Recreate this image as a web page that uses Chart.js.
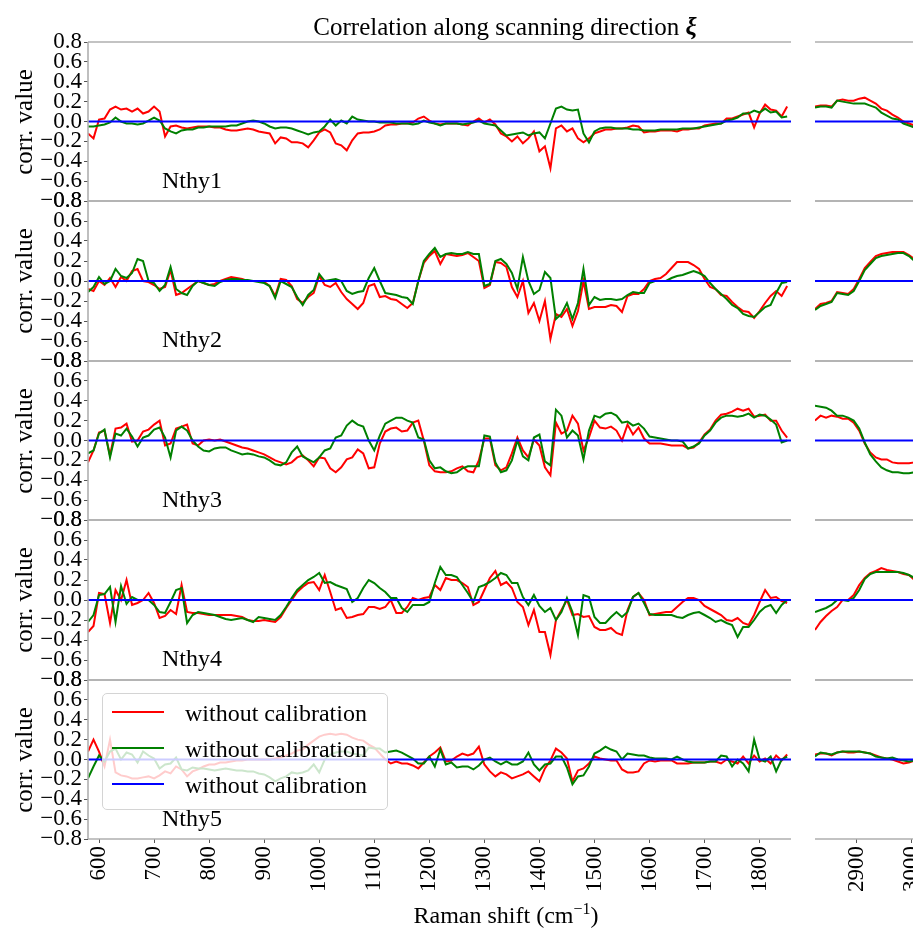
<!DOCTYPE html>
<html>
<head>
<meta charset="utf-8">
<script src="https://cdn.jsdelivr.net/npm/chart.js@4.4.0/dist/chart.umd.min.js"></script>
<style>
	html, body { margin: 0; padding: 0; overflow: hidden; background: #fff; }
	#fig { position: relative; width: 913px; height: 929px; overflow: hidden; font-family: 'Liberation Serif', 'Times New Roman', serif; color: #000; }
	#fig canvas { position: absolute; z-index: 1; }
	.txt { position: absolute; white-space: nowrap; z-index: 5; }
	#title { left: 505px; top: 14px; font-size: 25px; line-height: 25px; transform: translateX(-50%); }
	#xlabel { left: 506px; top: 903px; font-size: 24px; line-height: 24px; transform: translateX(-50%); }
	#xlabel sup { font-size: 16px; position: relative; top: -9px; vertical-align: baseline; }
	.ylabel { font-size: 25px; line-height: 25px; transform: translate(-50%, -50%) rotate(-90deg); }
	.sample { font-size: 24px; line-height: 24px; }
	#legend { position: absolute; left: 102px; top: 693px; width: 286px; height: 117px; box-sizing: border-box; background: rgba(255, 255, 255, 0.8); border: 1px solid #d4d4d4; border-radius: 5px; z-index: 6; }
	.leg_line { position: absolute; left: 9px; width: 52px; height: 2px; }
	.leg_text { position: absolute; left: 82px; font-size: 24px; line-height: 24px; white-space: nowrap; }
</style>
</head>
<body>
<div id="fig">
	<div class="txt" id="title">Correlation along scanning direction <b><i>ξ</i></b></div>
	<div class="txt" id="xlabel">Raman shift (cm<sup>−1</sup>)</div>
	<div id="legend"></div>
</div>
<script>
// Raman shift sampling, fingerprint part and CH part of the broken axis
const shift_fp = [
	580, 590, 600, 610, 620, 630, 640, 650, 660, 670,
	680, 690, 700, 710, 720, 730, 740, 750, 760, 770,
	780, 790, 800, 810, 820, 830, 840, 850, 860, 870,
	880, 890, 900, 910, 920, 930, 940, 950, 960, 970,
	980, 990, 1000, 1010, 1020, 1030, 1040, 1050, 1060, 1070,
	1080, 1090, 1100, 1110, 1120, 1130, 1140, 1150, 1160, 1170,
	1180, 1190, 1200, 1210, 1220, 1230, 1240, 1250, 1260, 1270,
	1280, 1290, 1300, 1310, 1320, 1330, 1340, 1350, 1360, 1370,
	1380, 1390, 1400, 1410, 1420, 1430, 1440, 1450, 1460, 1470,
	1480, 1490, 1500, 1510, 1520, 1530, 1540, 1550, 1560, 1570,
	1580, 1590, 1600, 1610, 1620, 1630, 1640, 1650, 1660, 1670,
	1680, 1690, 1700, 1710, 1720, 1730, 1740, 1750, 1760, 1770,
	1780, 1790, 1800, 1810, 1820, 1830, 1840, 1850,
]
const shift_hw = [2825, 2835, 2845, 2855, 2865, 2875, 2885, 2895, 2905, 2915, 2925, 2935, 2945, 2955, 2965, 2975, 2985, 2995, 3005]

const ticks_fp = [600, 700, 800, 900, 1000, 1100, 1200, 1300, 1400, 1500, 1600, 1700, 1800]
const ticks_hw = [2900, 3000]
const ticks_y = [-0.8, -0.6, -0.4, -0.2, 0, 0.2, 0.4, 0.6, 0.8]

const samples = ['Nthy1', 'Nthy2', 'Nthy3', 'Nthy4', 'Nthy5']
const legend_labels = ['without calibration', 'without calibration', 'without calibration']

// blue reference: flat at zero over each axis part
const blue_shift_fp = [580, 1857]
const blue_shift_hw = [2825, 3024]
const blue_level = [0, 0]

const nthy1_red_fp = [
	-0.12, -0.17, 0.02, 0.03, 0.12, 0.15, 0.12, 0.13, 0.10, 0.13,
	0.08, 0.10, 0.15, 0.10, -0.15, -0.05, -0.04, -0.06, -0.07, -0.06,
	-0.05, -0.05, -0.05, -0.06, -0.06, -0.08, -0.09, -0.09, -0.08, -0.07,
	-0.08, -0.10, -0.11, -0.12, -0.22, -0.16, -0.17, -0.21, -0.21, -0.22,
	-0.26, -0.19, -0.11, -0.08, -0.11, -0.22, -0.24, -0.29, -0.19, -0.12,
	-0.11, -0.11, -0.10, -0.08, -0.04, -0.03, -0.03, -0.02, -0.02, -0.01,
	0.03, 0.05, 0.01, -0.02, -0.03, -0.02, -0.02, -0.02, -0.03, -0.04,
	0.00, 0.03, -0.01, 0.02, -0.03, -0.12, -0.15, -0.20, -0.15, -0.22,
	-0.17, -0.10, -0.30, -0.25, -0.47, -0.07, -0.04, -0.10, -0.07, -0.17,
	-0.21, -0.17, -0.12, -0.10, -0.08, -0.08, -0.07, -0.07, -0.06, -0.04,
	-0.05, -0.11, -0.10, -0.10, -0.09, -0.09, -0.09, -0.10, -0.08, -0.08,
	-0.07, -0.07, -0.04, -0.03, -0.02, -0.02, 0.03, 0.03, 0.05, 0.07,
	0.09, -0.06, 0.08, 0.17, 0.12, 0.11, 0.05, 0.15,
]
const nthy1_green_fp = [
	-0.05, -0.05, -0.04, -0.03, -0.01, 0.04, 0.00, -0.02, -0.02, -0.03,
	-0.02, 0.01, 0.04, 0.01, -0.07, -0.10, -0.12, -0.09, -0.08, -0.08,
	-0.06, -0.06, -0.05, -0.05, -0.05, -0.05, -0.04, -0.04, -0.02, 0.00,
	0.01, 0.00, -0.02, -0.05, -0.07, -0.06, -0.06, -0.07, -0.09, -0.11,
	-0.13, -0.11, -0.10, -0.05, 0.02, -0.04, 0.01, -0.02, 0.05, 0.02,
	0.01, 0.00, 0.00, -0.01, -0.01, -0.01, -0.02, -0.02, -0.02, -0.03,
	-0.02, 0.01, -0.01, -0.02, -0.04, -0.02, -0.02, -0.02, -0.03, -0.02,
	-0.01, 0.01, -0.02, -0.03, -0.04, -0.09, -0.14, -0.13, -0.12, -0.11,
	-0.14, -0.12, -0.11, -0.17, -0.02, 0.13, 0.15, 0.12, 0.11, 0.12,
	-0.12, -0.21, -0.10, -0.07, -0.06, -0.06, -0.07, -0.07, -0.07, -0.08,
	-0.08, -0.09, -0.09, -0.09, -0.08, -0.08, -0.08, -0.08, -0.07, -0.07,
	-0.07, -0.06, -0.05, -0.04, -0.03, -0.02, 0.01, 0.02, 0.04, 0.08,
	0.08, 0.11, 0.09, 0.13, 0.09, 0.10, 0.04, 0.05,
]
const nthy1_red_hw = [0.15, 0.16, 0.16, 0.15, 0.21, 0.22, 0.21, 0.21, 0.23, 0.24, 0.21, 0.18, 0.13, 0.11, 0.07, 0.04, 0.00, -0.02, -0.04]
const nthy1_green_hw = [0.14, 0.15, 0.15, 0.14, 0.21, 0.20, 0.19, 0.18, 0.18, 0.18, 0.16, 0.14, 0.09, 0.06, 0.03, 0.02, -0.02, -0.04, -0.06]

const nthy2_red_fp = [
	-0.08, -0.10, 0.00, -0.04, 0.03, -0.06, 0.04, 0.00, 0.10, 0.12,
	0.00, -0.01, -0.04, -0.08, -0.06, 0.11, -0.14, -0.12, -0.08, -0.04,
	0.00, -0.02, -0.04, -0.03, 0.00, 0.02, 0.04, 0.03, 0.02, 0.00,
	0.00, 0.00, -0.01, -0.05, -0.15, 0.02, 0.01, -0.05, -0.18, -0.22,
	-0.16, -0.12, 0.05, -0.04, -0.06, -0.02, -0.11, -0.18, -0.23, -0.28,
	-0.22, -0.05, -0.03, -0.16, -0.15, -0.18, -0.19, -0.23, -0.27, -0.22,
	0.00, 0.18, 0.25, 0.30, 0.17, 0.27, 0.26, 0.25, 0.26, 0.28,
	0.24, 0.20, -0.07, -0.04, 0.19, 0.18, 0.14, -0.06, -0.16, 0.00,
	-0.32, -0.22, -0.40, -0.20, -0.58, -0.33, -0.36, -0.28, -0.45, -0.30,
	0.00, -0.28, -0.26, -0.26, -0.26, -0.24, -0.25, -0.31, -0.15, -0.13,
	-0.13, -0.08, 0.00, 0.02, 0.03, 0.07, 0.13, 0.19, 0.19, 0.19,
	0.16, 0.12, 0.02, -0.06, -0.08, -0.14, -0.15, -0.21, -0.26, -0.30,
	-0.31, -0.37, -0.30, -0.22, -0.15, -0.10, -0.15, -0.05,
]
const nthy2_green_fp = [
	-0.11, -0.06, 0.04, -0.03, 0.00, 0.12, 0.05, 0.03, 0.08, 0.22,
	0.20, 0.00, -0.02, -0.10, -0.04, 0.14, -0.08, -0.12, -0.14, -0.05,
	0.00, -0.02, -0.04, -0.05, -0.01, 0.01, 0.02, 0.02, 0.01, 0.01,
	0.00, -0.01, -0.02, -0.05, -0.17, 0.00, -0.03, -0.06, -0.16, -0.24,
	-0.14, -0.09, 0.07, 0.00, 0.01, 0.02, 0.00, -0.10, -0.13, -0.11,
	-0.10, 0.03, 0.13, 0.00, -0.12, -0.13, -0.14, -0.16, -0.17, -0.23,
	0.00, 0.20, 0.27, 0.33, 0.24, 0.27, 0.28, 0.27, 0.27, 0.29,
	0.27, 0.27, -0.05, -0.03, 0.20, 0.22, 0.17, 0.08, -0.08, 0.24,
	0.00, -0.13, -0.09, 0.09, 0.03, -0.38, -0.33, -0.22, -0.38, -0.22,
	0.12, -0.24, -0.16, -0.19, -0.18, -0.18, -0.19, -0.18, -0.14, -0.11,
	-0.12, -0.12, -0.02, 0.00, 0.00, 0.00, 0.03, 0.05, 0.06, 0.08,
	0.10, 0.08, 0.05, -0.02, -0.08, -0.13, -0.18, -0.24, -0.27, -0.33,
	-0.35, -0.36, -0.31, -0.26, -0.24, -0.12, -0.02, -0.01,
]
const nthy2_red_hw = [-0.28, -0.23, -0.22, -0.20, -0.11, -0.12, -0.13, -0.08, 0.02, 0.13, 0.19, 0.25, 0.27, 0.28, 0.29, 0.29, 0.29, 0.26, 0.22]
const nthy2_green_hw = [-0.29, -0.25, -0.23, -0.21, -0.12, -0.13, -0.14, -0.10, 0.00, 0.11, 0.17, 0.23, 0.25, 0.26, 0.27, 0.28, 0.28, 0.25, 0.20]

const nthy3_red_fp = [
	-0.22, -0.10, 0.08, 0.10, -0.15, 0.12, 0.13, 0.17, -0.01, 0.00,
	0.09, 0.11, 0.16, 0.20, -0.05, -0.03, 0.12, 0.14, 0.16, -0.03,
	-0.05, 0.00, 0.01, 0.00, 0.01, -0.01, -0.03, -0.05, -0.07, -0.08,
	-0.10, -0.12, -0.14, -0.17, -0.20, -0.22, -0.24, -0.22, -0.17, -0.15,
	-0.20, -0.26, -0.17, -0.18, -0.28, -0.32, -0.27, -0.19, -0.17, -0.09,
	-0.13, -0.28, -0.27, -0.03, 0.09, 0.12, 0.13, 0.09, 0.10, 0.18,
	0.20, 0.00, -0.25, -0.31, -0.32, -0.32, -0.31, -0.28, -0.26, -0.31,
	-0.32, -0.20, 0.02, 0.02, -0.25, -0.30, -0.27, -0.13, 0.03, -0.10,
	-0.17, 0.01, -0.05, -0.27, -0.35, 0.18, 0.07, 0.10, 0.25, 0.17,
	-0.10, 0.03, 0.20, 0.13, 0.12, 0.14, 0.10, 0.00, 0.16, 0.06,
	0.13, 0.02, -0.03, -0.03, -0.03, -0.04, -0.05, -0.05, -0.05, -0.08,
	-0.07, -0.02, 0.06, 0.11, 0.20, 0.26, 0.27, 0.29, 0.32, 0.30,
	0.32, 0.24, 0.25, 0.26, 0.20, 0.20, 0.10, 0.03,
]
const nthy3_green_fp = [
	-0.13, -0.10, 0.07, 0.11, -0.17, 0.07, 0.05, 0.12, 0.04, -0.06,
	0.03, 0.05, 0.11, 0.13, 0.03, -0.17, 0.10, 0.14, 0.10, 0.00,
	-0.06, -0.10, -0.11, -0.08, -0.07, -0.07, -0.10, -0.12, -0.14, -0.13,
	-0.14, -0.16, -0.17, -0.20, -0.24, -0.25, -0.22, -0.12, -0.06, -0.16,
	-0.19, -0.22, -0.17, -0.10, -0.08, 0.03, 0.05, 0.15, 0.20, 0.16,
	0.14, 0.00, -0.10, 0.05, 0.17, 0.20, 0.23, 0.23, 0.20, 0.18,
	0.03, 0.01, -0.20, -0.28, -0.27, -0.31, -0.33, -0.32, -0.28, -0.26,
	-0.26, -0.26, 0.05, 0.04, -0.22, -0.32, -0.30, -0.20, 0.00, -0.16,
	-0.20, 0.03, 0.06, -0.21, -0.25, 0.31, 0.25, 0.03, 0.10, 0.05,
	-0.19, 0.10, 0.25, 0.23, 0.27, 0.28, 0.25, 0.18, 0.19, 0.15,
	0.17, 0.12, 0.04, 0.03, 0.02, 0.01, 0.00, 0.00, -0.01, -0.08,
	-0.06, -0.03, 0.05, 0.10, 0.18, 0.23, 0.25, 0.25, 0.24, 0.25,
	0.27, 0.23, 0.26, 0.25, 0.21, 0.16, -0.02, 0.00,
]
const nthy3_red_hw = [0.20, 0.25, 0.23, 0.25, 0.24, 0.22, 0.22, 0.18, 0.10, -0.03, -0.12, -0.17, -0.19, -0.19, -0.22, -0.23, -0.23, -0.23, -0.22]
const nthy3_green_hw = [0.35, 0.34, 0.33, 0.30, 0.25, 0.25, 0.23, 0.20, 0.12, -0.02, -0.14, -0.21, -0.27, -0.30, -0.32, -0.32, -0.33, -0.33, -0.32]

const nthy4_red_fp = [
	-0.32, -0.26, 0.07, 0.06, -0.23, 0.10, 0.00, 0.20, -0.05, -0.03,
	0.00, 0.07, -0.03, -0.18, -0.16, -0.10, -0.14, 0.15, -0.12, -0.13,
	-0.13, -0.14, -0.15, -0.15, -0.15, -0.15, -0.15, -0.16, -0.17, -0.20,
	-0.21, -0.21, -0.20, -0.21, -0.22, -0.17, -0.08, 0.00, 0.08, 0.13,
	0.17, 0.18, 0.10, 0.25, 0.08, -0.10, -0.08, -0.18, -0.17, -0.15,
	-0.14, -0.07, -0.07, -0.09, -0.07, 0.00, -0.13, -0.13, -0.07, 0.02,
	0.00, 0.02, 0.03, 0.15, 0.10, 0.22, 0.20, 0.20, 0.17, 0.13,
	-0.05, -0.02, 0.10, 0.22, 0.29, 0.15, 0.18, 0.12, -0.02, -0.07,
	-0.25, -0.10, -0.32, -0.32, -0.55, -0.20, -0.10, 0.00, -0.15, -0.14,
	-0.17, -0.16, -0.27, -0.30, -0.30, -0.28, -0.33, -0.35, -0.10, 0.03,
	0.07, 0.00, -0.15, -0.14, -0.13, -0.12, -0.12, -0.07, -0.02, 0.02,
	0.02, 0.00, -0.06, -0.09, -0.12, -0.15, -0.20, -0.21, -0.18, -0.23,
	-0.25, -0.15, -0.02, 0.10, 0.02, 0.03, -0.01, -0.03,
]
const nthy4_green_fp = [
	-0.22, -0.15, 0.05, 0.06, 0.13, -0.22, 0.14, -0.04, 0.03, 0.00,
	0.00, 0.00, -0.05, -0.12, -0.13, -0.02, 0.10, 0.12, -0.23, -0.15,
	-0.12, -0.13, -0.14, -0.15, -0.17, -0.19, -0.20, -0.19, -0.18, -0.20,
	-0.22, -0.17, -0.18, -0.19, -0.20, -0.15, -0.07, 0.02, 0.10, 0.15,
	0.20, 0.23, 0.27, 0.17, 0.18, 0.15, 0.13, 0.11, -0.02, 0.02,
	0.12, 0.20, 0.17, 0.12, 0.08, 0.02, 0.02, -0.08, -0.12, -0.05,
	-0.05, -0.05, -0.02, 0.17, 0.33, 0.25, 0.25, 0.23, 0.15, 0.07,
	-0.02, 0.13, 0.15, 0.18, 0.22, 0.27, 0.25, 0.17, 0.17, 0.03,
	-0.05, 0.05, -0.06, -0.12, -0.08, -0.20, -0.12, 0.02, -0.12, -0.35,
	0.05, 0.03, -0.17, -0.23, -0.23, -0.17, -0.12, -0.17, -0.12, 0.03,
	0.07, -0.03, -0.14, -0.15, -0.15, -0.15, -0.15, -0.17, -0.18, -0.15,
	-0.13, -0.12, -0.15, -0.18, -0.22, -0.20, -0.23, -0.25, -0.37, -0.27,
	-0.27, -0.20, -0.12, -0.07, -0.05, -0.13, -0.05, 0.00,
]
const nthy4_red_hw = [-0.30, -0.22, -0.16, -0.11, -0.07, 0.00, 0.00, 0.05, 0.15, 0.22, 0.27, 0.29, 0.32, 0.30, 0.29, 0.28, 0.26, 0.25, 0.20]
const nthy4_green_hw = [-0.12, -0.10, -0.08, -0.05, 0.00, 0.00, -0.01, 0.02, 0.10, 0.21, 0.26, 0.28, 0.28, 0.28, 0.28, 0.28, 0.27, 0.25, 0.22]

const nthy5_red_fp = [
	0.08, 0.20, 0.08, -0.07, 0.20, -0.13, -0.16, -0.17, -0.19, -0.19,
	-0.18, -0.17, -0.19, -0.16, -0.12, -0.14, -0.07, -0.10, -0.17, -0.12,
	-0.10, -0.07, -0.05, -0.05, -0.03, -0.03, -0.02, -0.01, -0.01, 0.00,
	0.00, 0.00, 0.00, 0.00, 0.01, 0.02, 0.04, 0.06, 0.09, 0.10,
	0.15, 0.19, 0.23, 0.25, 0.26, 0.25, 0.26, 0.25, 0.22, 0.20,
	0.19, 0.15, 0.12, 0.06, 0.00, -0.04, -0.02, -0.04, -0.04, -0.06,
	-0.09, -0.03, 0.03, 0.07, 0.12, -0.02, -0.01, 0.03, 0.06, 0.04,
	0.06, 0.13, -0.05, -0.12, -0.17, -0.13, -0.15, -0.19, -0.17, -0.15,
	-0.12, -0.17, -0.22, -0.09, -0.01, 0.11, 0.07, 0.01, -0.22, -0.11,
	-0.09, -0.04, 0.03, 0.01, 0.00, -0.01, -0.01, -0.10, -0.13, -0.13,
	-0.12, -0.04, -0.01, -0.02, -0.01, -0.01, -0.01, -0.04, -0.04, -0.04,
	-0.03, -0.03, -0.03, -0.02, -0.02, -0.04, 0.00, -0.02, -0.04, 0.03,
	-0.04, 0.04, -0.02, 0.01, -0.04, 0.04, -0.01, 0.05,
]
const nthy5_green_fp = [
	-0.19, -0.07, 0.04, -0.02, 0.08, 0.11, 0.00, 0.07, 0.05, -0.03,
	0.08, 0.04, 0.01, -0.09, -0.05, -0.04, 0.02, -0.10, -0.11, -0.08,
	-0.09, -0.09, -0.10, -0.11, -0.10, -0.09, -0.10, -0.11, -0.11, -0.12,
	-0.12, -0.14, -0.15, -0.18, -0.22, -0.19, -0.17, -0.13, -0.14, -0.13,
	-0.11, -0.05, -0.13, 0.00, 0.05, 0.07, 0.08, 0.08, 0.06, 0.05,
	0.04, 0.12, 0.11, 0.11, 0.07, 0.08, 0.09, 0.07, 0.04, 0.01,
	-0.04, -0.04, 0.03, -0.07, 0.10, -0.05, -0.03, -0.08, -0.07, -0.07,
	-0.10, -0.06, 0.00, 0.02, -0.02, -0.05, -0.02, -0.05, -0.05, -0.02,
	0.07, -0.05, -0.11, -0.05, -0.04, 0.03, 0.03, -0.08, -0.25, -0.17,
	-0.16, -0.07, 0.06, 0.09, 0.13, 0.10, 0.08, 0.00, 0.06, 0.05,
	0.04, 0.04, 0.02, 0.01, 0.01, 0.01, 0.00, 0.03, 0.00, -0.02,
	-0.03, -0.03, -0.03, -0.02, -0.02, 0.04, 0.03, -0.07, 0.00, -0.04,
	-0.12, 0.20, 0.00, -0.02, 0.03, -0.12, 0.00, 0.03,
]
const nthy5_red_hw = [0.05, 0.06, 0.06, 0.04, 0.07, 0.08, 0.07, 0.07, 0.08, 0.07, 0.06, 0.04, 0.02, 0.01, 0.00, -0.02, -0.04, -0.03, -0.01]
const nthy5_green_hw = [0.03, 0.07, 0.06, 0.05, 0.07, 0.08, 0.08, 0.08, 0.08, 0.07, 0.06, 0.03, 0.02, 0.01, 0.02, 0.00, -0.01, -0.02, -0.01]

const red_fp = [nthy1_red_fp, nthy2_red_fp, nthy3_red_fp, nthy4_red_fp, nthy5_red_fp]
const green_fp = [nthy1_green_fp, nthy2_green_fp, nthy3_green_fp, nthy4_green_fp, nthy5_green_fp]
const red_hw = [nthy1_red_hw, nthy2_red_hw, nthy3_red_hw, nthy4_red_hw, nthy5_red_hw]
const green_hw = [nthy1_green_hw, nthy2_green_hw, nthy3_green_hw, nthy4_green_hw, nthy5_green_hw]

const COLORS = ['rgb(255, 0, 0)', 'rgb(0, 128, 0)', 'rgb(0, 0, 255)']
const FONT = "'Liberation Serif', 'Times New Roman', serif"
const PANEL_Y0 = 41.5
const PANEL_H = 159.5
const PAD = 16
const X_AXIS_H = 80
const Y_AXIS_W = 88

const fig = document.getElementById('fig')

function points (xs, ys) {
	return xs.map((x, idx) => ({ x, y: ys[idx] }))
}

function fmt_y (v) {
	return v.toFixed(1).replace('-', '\u2212')
}

// gray spines on top of the lines, like the matplotlib axes frame
const spines = {
	id: 'spines',
	afterDraw (chart, args, opts) {
		const { ctx, chartArea: a } = chart
		ctx.save()
		ctx.strokeStyle = '#b0b0b0'
		ctx.lineWidth = 1.6
		ctx.beginPath()
		ctx.moveTo(a.left, a.top)
		ctx.lineTo(a.right, a.top)
		ctx.moveTo(a.left, a.bottom)
		ctx.lineTo(a.right, a.bottom)
		if (opts.left) {
			ctx.moveTo(a.left, a.top)
			ctx.lineTo(a.left, a.bottom)
		}
		ctx.stroke()
		ctx.restore()
	},
}

function make_panel ({ left, top, width, height, padding, x_min, x_max, x_ticks, show_x, show_y, shift, blue_shift, red, green }) {
	const canvas = document.createElement('canvas')
	canvas.width = width
	canvas.height = height
	canvas.style.left = left + 'px'
	canvas.style.top = top + 'px'
	fig.appendChild(canvas)
	const tick_font = { family: FONT, size: 23 }
	return new Chart(canvas, {
		type: 'line',
		data: {
			datasets: [
				{ data: points(shift, red), borderColor: COLORS[0], order: 3 },
				{ data: points(shift, green), borderColor: COLORS[1], order: 2 },
				{ data: points(blue_shift, blue_level), borderColor: COLORS[2], order: 1 },
			],
		},
		options: {
			responsive: false,
			animation: false,
			devicePixelRatio: 1,
			layout: { autoPadding: false, padding },
			elements: {
				point: { radius: 0 },
				line: { borderWidth: 2, tension: 0, fill: false },
			},
			plugins: {
				legend: { display: false },
				tooltip: { enabled: false },
				spines: { left: show_y },
			},
			scales: {
				x: {
					type: 'linear',
					min: x_min,
					max: x_max,
					display: show_x,
					afterBuildTicks: (axis) => { axis.ticks = x_ticks.map((v) => ({ value: v })) },
					afterFit: (axis) => { if (show_x) axis.height = X_AXIS_H },
					border: { display: false },
					grid: { drawOnChartArea: false, drawTicks: true, tickLength: 4, color: '#555' },
					ticks: {
						autoSkip: false,
						minRotation: 90,
						maxRotation: 90,
						padding: 3,
						color: '#000',
						font: tick_font,
						callback: (v) => String(v),
					},
				},
				y: {
					type: 'linear',
					min: -0.8,
					max: 0.8,
					display: show_y,
					afterBuildTicks: (axis) => { axis.ticks = ticks_y.map((v) => ({ value: v })) },
					afterFit: (axis) => { if (show_y) axis.width = Y_AXIS_W },
					border: { display: false },
					grid: { drawOnChartArea: false, drawTicks: true, tickLength: 4, color: '#555' },
					ticks: {
						autoSkip: false,
						padding: 2,
						color: '#000',
						font: tick_font,
						callback: fmt_y,
					},
				},
			},
		},
		plugins: [spines],
	})
}

function add_text (cls, text, left, top) {
	const div = document.createElement('div')
	div.className = 'txt ' + cls
	div.textContent = text
	div.style.left = left + 'px'
	div.style.top = top + 'px'
	fig.appendChild(div)
}

samples.forEach(function (name, idx) {
	const y_top = Math.round(PANEL_Y0 + PANEL_H * idx)
	const y_bottom = Math.round(PANEL_Y0 + PANEL_H * (idx + 1))
	const last = idx === samples.length - 1
	const ph = y_bottom - y_top
	const bottom_room = last ? X_AXIS_H : PAD
	const height = PAD + ph + bottom_room
	// fingerprint region, left part of the broken axis
	make_panel({
		left: 0,
		top: y_top - PAD,
		width: 800,
		height,
		padding: { left: 0, right: 9, top: PAD, bottom: last ? 0 : PAD },
		x_min: 580,
		x_max: 1857,
		x_ticks: ticks_fp,
		show_x: last,
		show_y: true,
		shift: shift_fp,
		blue_shift: blue_shift_fp,
		red: red_fp[idx],
		green: green_fp[idx],
	})
	// CH stretching region, right part (cut by the figure edge);
	// wide right padding so the last tick label needs no extra room
	make_panel({
		left: 805,
		top: y_top - PAD,
		width: 160,
		height,
		padding: { left: 10, right: 40, top: PAD, bottom: last ? 0 : PAD },
		x_min: 2825,
		x_max: 3024,
		x_ticks: ticks_hw,
		show_x: last,
		show_y: false,
		shift: shift_hw,
		blue_shift: blue_shift_hw,
		red: red_hw[idx],
		green: green_hw[idx],
	})
	add_text('ylabel', 'corr. value', 23, y_top + ph / 2)
	add_text('sample', name, 162, y_top + 126)
})

// legend box drawn in the last panel
const legend = document.getElementById('legend')
const legend_rows = [19, 55, 91]
legend_labels.forEach(function (label, idx) {
	const line = document.createElement('div')
	line.className = 'leg_line'
	line.style.top = (legend_rows[idx] - 2) + 'px'
	line.style.background = COLORS[idx]
	legend.appendChild(line)
	const text = document.createElement('div')
	text.className = 'leg_text'
	text.style.top = (legend_rows[idx] - 12) + 'px'
	text.textContent = label
	legend.appendChild(text)
})
</script>
</body>
</html>
